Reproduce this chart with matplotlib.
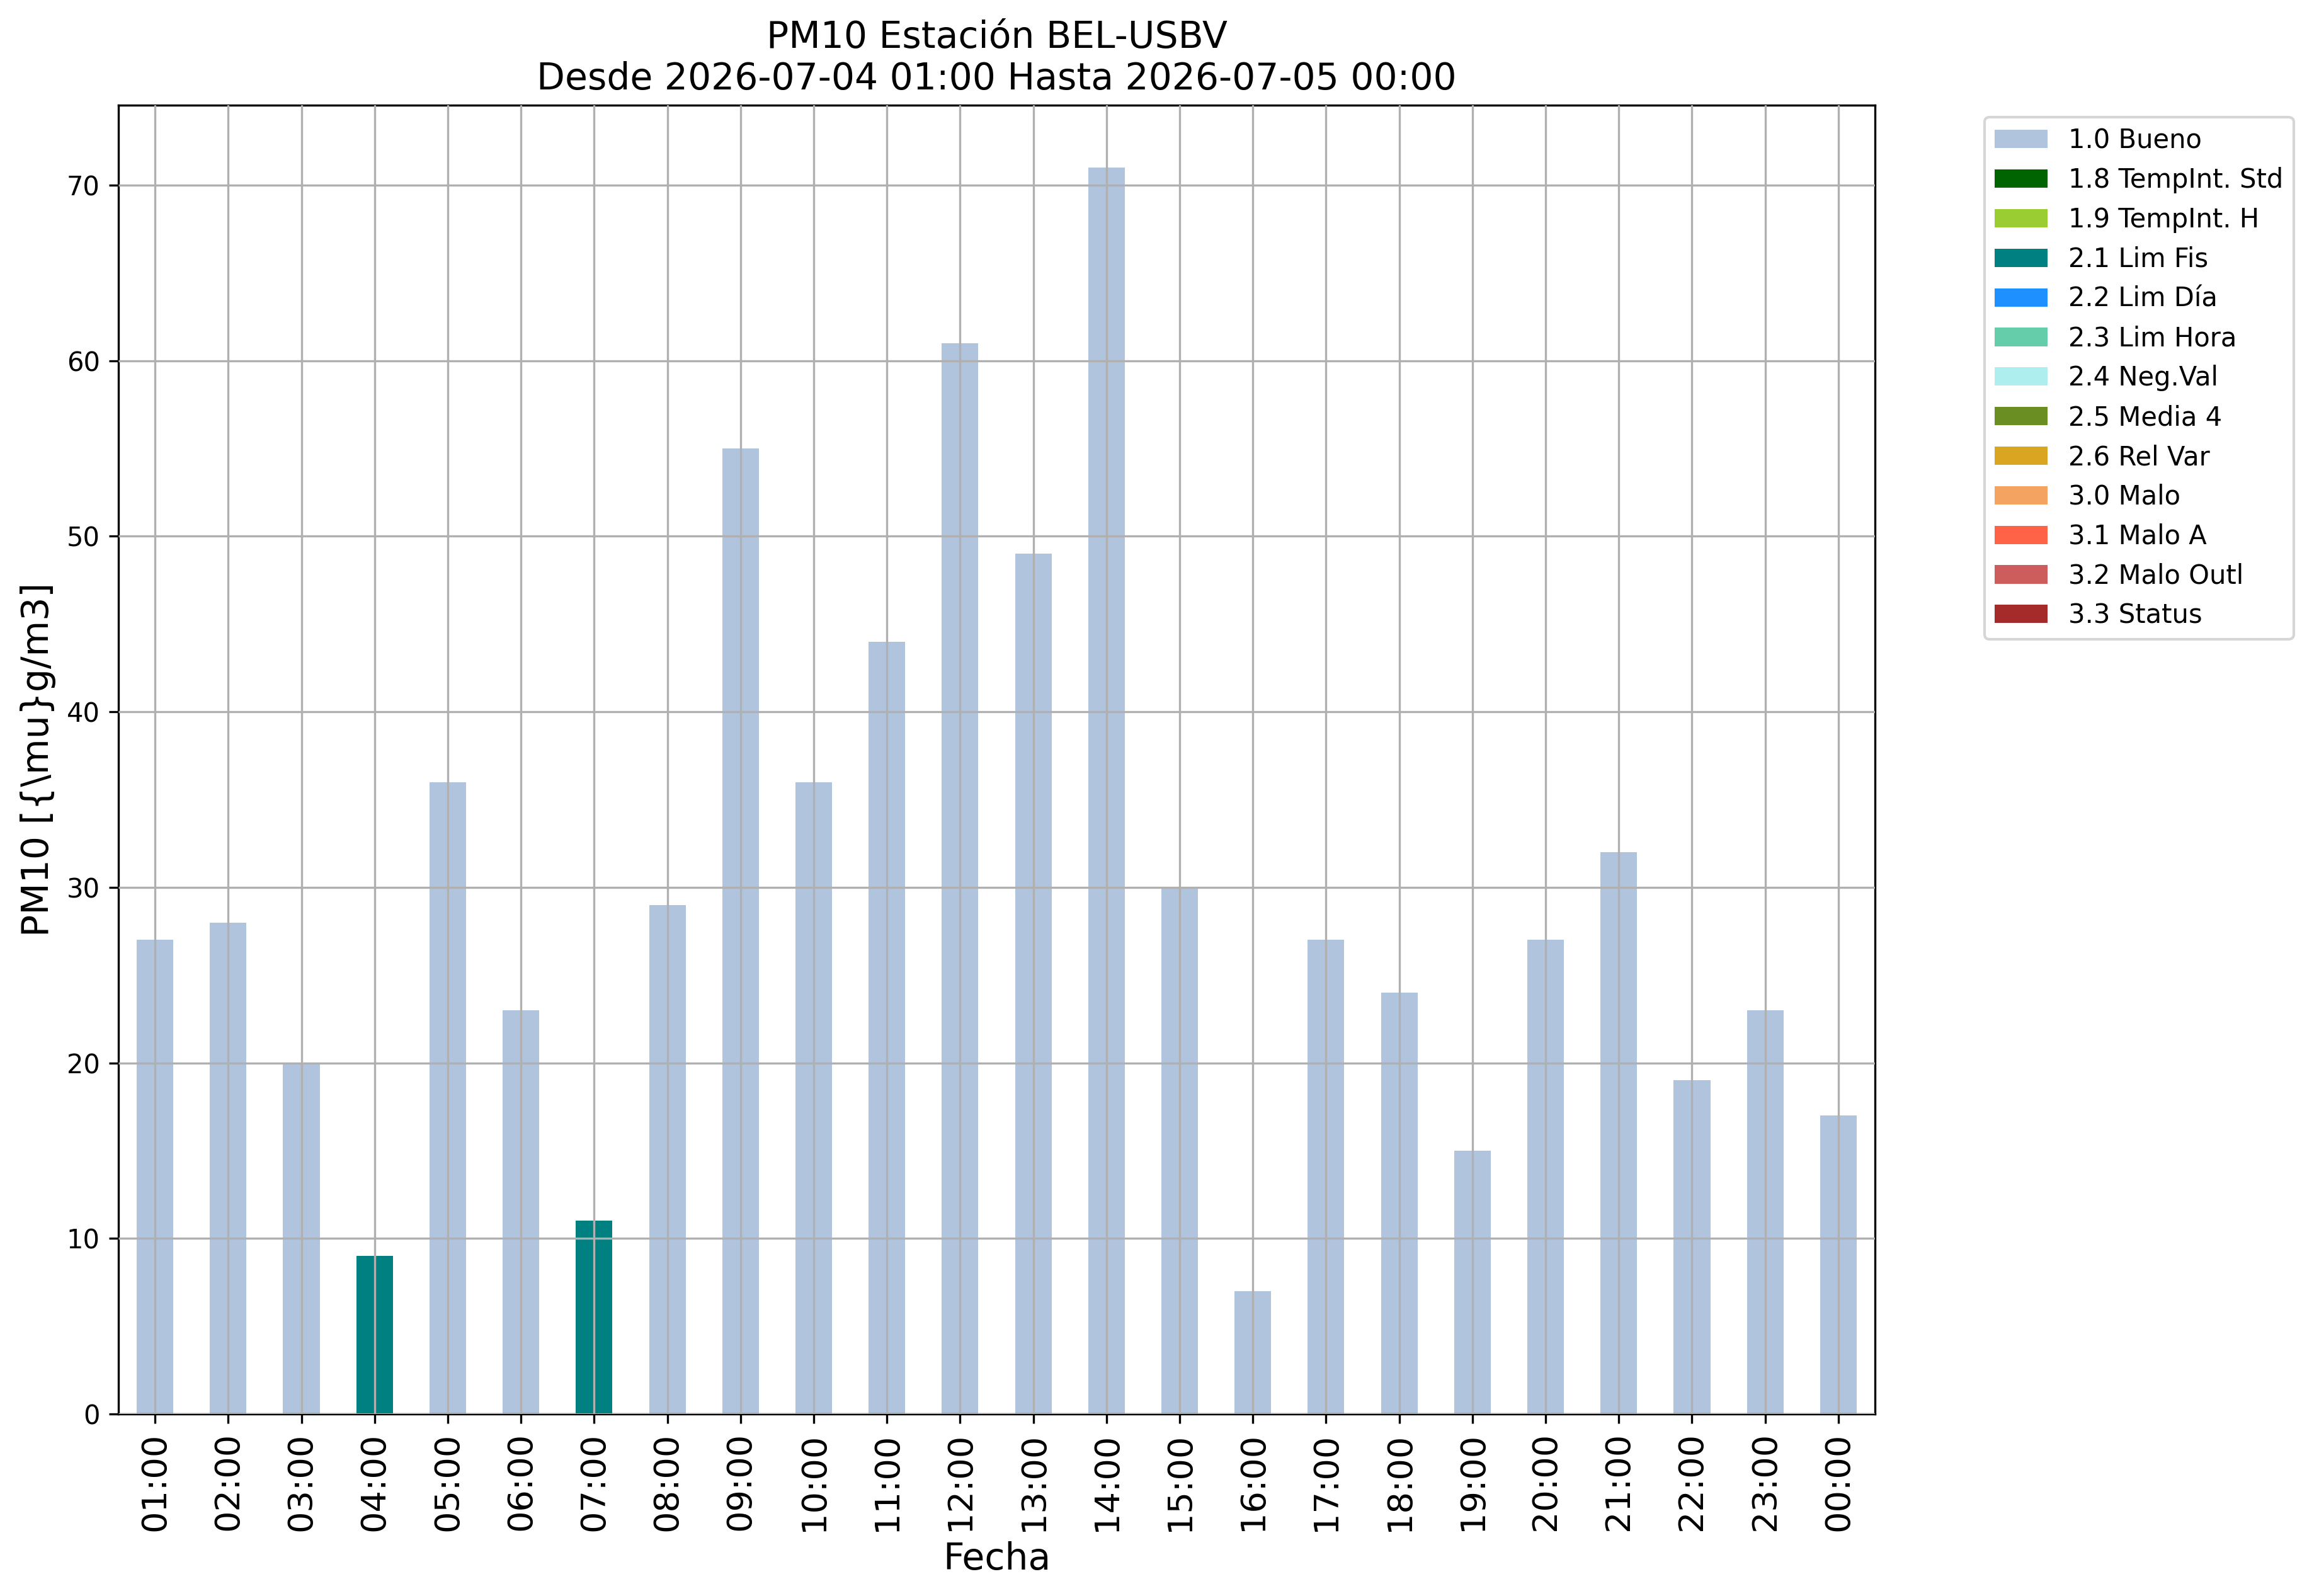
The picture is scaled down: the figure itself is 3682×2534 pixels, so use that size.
import numpy as np
import matplotlib
matplotlib.use("Agg")
import matplotlib.pyplot as plt

# hourly PM10 values and their validation flag
horas = ["01:00", "02:00", "03:00", "04:00", "05:00", "06:00", "07:00", "08:00",
         "09:00", "10:00", "11:00", "12:00", "13:00", "14:00", "15:00", "16:00",
         "17:00", "18:00", "19:00", "20:00", "21:00", "22:00", "23:00", "00:00"]
valores = [27, 28, 20, 9, 36, 23, 11, 29, 55, 36, 44, 61, 49, 71, 30, 7,
           27, 24, 15, 27, 32, 19, 23, 17]
flags = ["1.0 Bueno", "1.0 Bueno", "1.0 Bueno", "2.1 Lim Fis", "1.0 Bueno",
         "1.0 Bueno", "2.1 Lim Fis", "1.0 Bueno", "1.0 Bueno", "1.0 Bueno",
         "1.0 Bueno", "1.0 Bueno", "1.0 Bueno", "1.0 Bueno", "1.0 Bueno",
         "1.0 Bueno", "1.0 Bueno", "1.0 Bueno", "1.0 Bueno", "1.0 Bueno",
         "1.0 Bueno", "1.0 Bueno", "1.0 Bueno", "1.0 Bueno"]

categorias = ["1.0 Bueno", "1.8 TempInt. Std", "1.9 TempInt. H", "2.1 Lim Fis",
              "2.2 Lim Día", "2.3 Lim Hora", "2.4 Neg.Val", "2.5 Media 4",
              "2.6 Rel Var", "3.0 Malo", "3.1 Malo A", "3.2 Malo Outl", "3.3 Status"]
colores = ["lightsteelblue", "darkgreen", "yellowgreen", "teal", "dodgerblue",
           "mediumaquamarine", "paleturquoise", "olivedrab", "goldenrod",
           "sandybrown", "tomato", "indianred", "brown"]

fig = plt.figure(figsize=(3682 / 300, 2534 / 300), dpi=300)
ax = fig.add_subplot(111)
fig.subplots_adjust(left=188 / 3682, right=2977 / 3682,
                    top=1 - 167 / 2534, bottom=1 - 2245 / 2534)

x = np.arange(len(horas))
vals = np.array(valores, dtype=float)
base = np.zeros(len(horas))
for cat, col in zip(categorias, colores):
    h = np.where(np.array(flags) == cat, vals, 0.0)
    ax.bar(x, h, 0.5, bottom=base, color=col, label=cat)
    base += h

ax.set_xlim(-0.5, len(horas) - 0.5)
ax.set_ylim(0, max(valores) * 1.05)
ax.set_xticks(x)
ax.set_xticklabels(horas, rotation=90, fontsize=13)
ax.tick_params(axis="y", labelsize=10)
ax.grid(True)
ax.set_axisbelow(False)

ax.set_title("PM10 Estación BEL-USBV\nDesde 2026-07-04 01:00 Hasta 2026-07-05 00:00",
             fontsize=14)
ax.set_xlabel("Fecha", fontsize=14)
ax.set_ylabel("PM10 [{\\mu}g/m3]", fontsize=14)
ax.legend(loc="upper left", bbox_to_anchor=(1.0555, 1), borderaxespad=0.45,
          fontsize=10)

fig.savefig("out.png", dpi=300)
